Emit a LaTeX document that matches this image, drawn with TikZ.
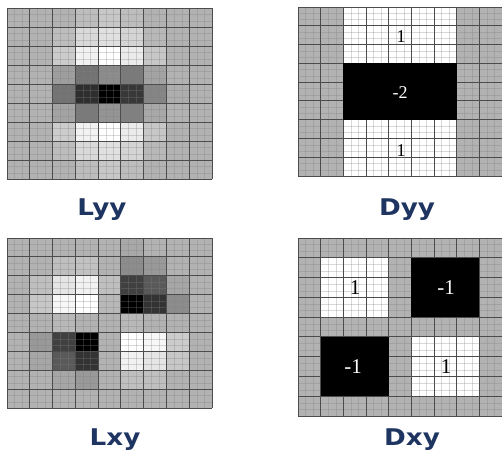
\documentclass[tikz,border=0pt]{standalone}
\usepackage{fontspec}
\newfontfamily\labfont{DejaVu Sans}
\newfontfamily\numfont{Liberation Serif}
\definecolor{navy}{HTML}{1E3461}
\tikzset{
  majorline/.style={draw=black!70, line width=0.9pt},
  minorline/.style={draw=black!50, line width=0.25pt, opacity=0.3},
  lab/.style={font=\labfont\bfseries\fontsize{23}{23}\selectfont, text=navy, anchor=base, inner sep=0pt},
  numtxt/.style={font=\numfont\fontsize{18}{18}\selectfont, inner sep=0pt},
  bignum/.style={numtxt, font=\numfont\fontsize{21}{21}\selectfont},
}
\newcommand\heatgrid[5]{%
\begin{scope}[shift={(#1,#2)},xscale={(#3-#1)/9},yscale={(#4-#2)/9}]
\foreach \row [count=\r from 0] in {#5} {
  \foreach \v [count=\c from 0] in \row {
    \fill[white!\v!black] (\c,\r) rectangle ++(1,1);
  }
}
\foreach \k in {0,...,8} {
  \draw[minorline] (\k+0.333,0) -- (\k+0.333,9);
  \draw[minorline] (\k+0.667,0) -- (\k+0.667,9);
  \draw[minorline] (0,\k+0.333) -- (9,\k+0.333);
  \draw[minorline] (0,\k+0.667) -- (9,\k+0.667);
}
\foreach \k in {0,...,9} {
  \draw[majorline] (\k,0) -- (\k,9);
  \draw[majorline] (0,\k) -- (9,\k);
}
\end{scope}}
\begin{document}
\begin{tikzpicture}[x=1pt,y=-1pt]
\fill[white] (0,0) rectangle (502,453);
\useasboundingbox (0,0) rectangle (502,453);

% Lyy
\heatgrid{7}{8}{212}{179}{%
{70,70,70,74,78,74,70,70,70},
{70,70,74,85,88,83,72,70,70},
{70,70,80,95,100,92,78,70,70},
{70,70,62,45,55,48,64,70,70},
{70,70,45,18,0,22,52,68,70},
{70,70,64,48,58,50,66,70,70},
{70,70,80,95,100,92,78,70,70},
{70,70,74,85,88,83,72,70,70},
{70,70,70,74,78,74,70,70,70}}

% Dyy
\heatgrid{298}{7}{502}{176}{%
{70,70,100,100,100,100,100,70,70},
{70,70,100,100,100,100,100,70,70},
{70,70,100,100,100,100,100,70,70},
{70,70,100,100,100,100,100,70,70},
{70,70,100,100,100,100,100,70,70},
{70,70,100,100,100,100,100,70,70},
{70,70,100,100,100,100,100,70,70},
{70,70,100,100,100,100,100,70,70},
{70,70,100,100,100,100,100,70,70}}
\fill[black] (343.3,63.3) rectangle (456.7,119.7);
\node[numtxt] (dyy1) at (401,37) {1};
\node[numtxt, text=white] (dyy2) at (400,93) {-2};
\node[numtxt] (dyy3) at (401,151) {1};

% Lxy
\heatgrid{7}{238}{212}{408}{%
{70,70,70,70,70,66,70,70,70},
{70,70,75,76,70,55,60,70,70},
{70,75,90,95,75,25,35,65,70},
{70,78,97,100,72,0,20,55,70},
{70,70,72,70,70,72,70,70,70},
{70,60,25,0,70,100,97,80,70},
{70,65,35,20,70,95,90,78,70},
{70,70,65,60,70,75,75,70,70},
{70,70,70,70,70,70,70,70,70}}

% Dxy
\heatgrid{298}{238}{502}{416}{%
{70,70,70,70,70,70,70,70,70},
{70,100,100,100,70,70,70,70,70},
{70,100,100,100,70,70,70,70,70},
{70,100,100,100,70,70,70,70,70},
{70,70,70,70,70,70,70,70,70},
{70,70,70,70,70,100,100,100,70},
{70,70,70,70,70,100,100,100,70},
{70,70,70,70,70,100,100,100,70},
{70,70,70,70,70,70,70,70,70}}
\fill[black] (411.3,257.8) rectangle (479.3,317.1);
\fill[black] (320.7,336.9) rectangle (388.7,396.2);
\node[bignum] (dxy1) at (355,288) {1};
\node[bignum, text=white] (dxy2) at (446,288) {-1};
\node[bignum, text=white] (dxy3) at (353,367) {-1};
\node[bignum] (dxy4) at (446,367) {1};

% labels
\node[lab] (lyy) at (102,215) {\scalebox{1.14}[1]{Lyy}};
\node[lab] (dyyl) at (407,215) {\scalebox{1.14}[1]{Dyy}};
\node[lab] (lxy) at (115,445) {\scalebox{1.14}[1]{Lxy}};
\node[lab] (dxyl) at (412,445) {\scalebox{1.14}[1]{Dxy}};
\end{tikzpicture}
\end{document}
